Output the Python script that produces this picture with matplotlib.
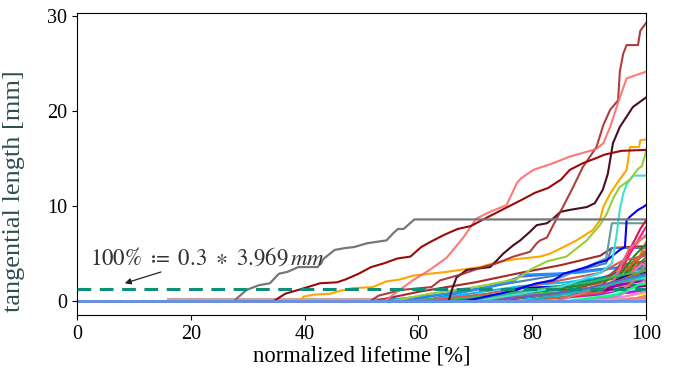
import matplotlib
matplotlib.use("Agg")
import matplotlib.pyplot as plt

plt.rcParams['font.family'] = ['Liberation Serif', 'DejaVu Serif']
plt.rcParams['mathtext.fontset'] = 'stix'

# main (readable) crack curves: normalized lifetime [%] vs tangential length [mm]
gray_x = [0, 27.5, 29.8, 32, 33.9, 35.5, 37, 38.9, 42.3, 43.4, 45.3, 47.2, 48.7, 51, 54.4, 55.5, 56.4, 57.4, 59.3, 100]
gray_y = [0, 0.0, 1.2, 1.7, 1.9, 2.9, 3.1, 3.6, 3.6, 4.5, 5.4, 5.6, 5.7, 6.1, 6.4, 7.1, 7.6, 7.6, 8.6, 8.6]

darkred_x = [0, 34.5, 36.6, 38.9, 41.1, 42.7, 45.7, 47.2, 49.5, 51.7, 54, 56.3, 58.6, 60.5, 62.3, 64.6, 66.9,
             69.2, 71.4, 73.7, 76, 78.3, 80.5, 82.8, 85.1, 86.6, 88.9, 91.1, 92.7, 94.2, 95.7, 100]
darkred_y = [0, 0.0, 0.8, 1.2, 1.6, 1.9, 2.0, 2.3, 2.9, 3.6, 4.0, 4.5, 4.7, 5.7, 6.3, 7.0, 7.6,
             7.9, 8.6, 9.3, 10.0, 10.7, 11.4, 11.9, 12.8, 13.8, 14.5, 15.0, 15.4, 15.6, 15.8, 15.9]

salmon_x = [0, 54.0, 59, 62, 65, 67.9, 70.2, 72.6, 75.5, 77.3, 78, 80.2, 83.7, 86.6, 89.6, 91.3, 92.5,
            93.7, 95.4, 96.6, 98, 100]
salmon_y = [0, 0.0, 2.2, 3.3, 4.6, 6.7, 8.7, 9.4, 10.1, 12.4, 12.9, 13.8, 14.5, 15.2, 15.7, 16.0, 16.6,
            18.3, 21.4, 23.4, 23.7, 24.1]

brown_x = [0, 51.5, 53, 57, 62.3, 63.8, 67.9, 70.8, 73.8, 76.7, 79.6, 80.8, 81.4, 82.6, 83.7, 85.4, 87.2,
           88.9, 89.6, 91.3, 92.5, 93.7, 95.1, 95.4, 96, 96.6, 98.6, 99, 100]
brown_y = [0, 0.0, 0.6, 1.2, 1.5, 2.2, 2.9, 3.5, 4.0, 4.7, 5.2, 6.1, 6.4, 6.7, 8.0, 9.9, 12.0,
           14.1, 14.7, 16.2, 18.5, 20.1, 21.1, 24.1, 26.0, 26.9, 26.9, 28.4, 29.2]

maroon_x = [0, 65.3, 66, 66.7, 68.5, 72.6, 73.8, 74.9, 76.7, 77.9, 79.6, 80.8, 82.6, 83.7, 85, 86.6, 89.6,
            91, 92.4, 93.3, 94.2, 95.4, 97.7, 100]
maroon_y = [0, 0.0, 1.4, 2.5, 3.3, 3.6, 4.3, 5.0, 5.9, 6.4, 7.3, 8.0, 8.2, 8.7, 9.4, 9.6, 9.9,
            10.3, 11.7, 13.4, 16.6, 18.3, 20.4, 21.4]

orange_x = [0, 39.2, 39.8, 41.5, 44.5, 46.2, 48.6, 52, 54.4, 56.8, 59.1, 65, 70.8, 73.8, 76.7, 81.4,
            83.1, 85.5, 87.8, 90.7, 91.9, 92.5, 93.7, 94.8, 96.6, 97.2, 98.8, 99, 100]
orange_y = [0, 0.0, 0.5, 0.7, 0.8, 1.1, 1.4, 1.5, 2.1, 2.3, 2.7, 3.1, 3.6, 4.1, 4.4, 4.7,
            5.0, 5.7, 6.4, 7.5, 8.5, 9.9, 11.3, 12.3, 13.8, 16.2, 16.2, 16.9, 17.0]

yellowgreen_x = [0, 55, 62, 70, 77, 78.5, 79.6, 82.6, 86, 89.6, 91.9, 93.1, 94.3, 95.4, 97.2, 98.6, 99.3, 100]
yellowgreen_y = [0, 0.0, 0.8, 1.5, 2.3, 2.8, 3.3, 4.2, 4.7, 6.4, 8.0, 9.2, 10.9, 12.0, 12.8, 13.9, 14.2, 15.7]

turquoise_x = [0, 70, 85, 92, 94, 94.8, 95.4, 96, 96.6, 97.8, 100]
turquoise_y = [0, 0.0, 1.5, 3.0, 4.0, 6.8, 9.6, 11.3, 12.3, 13.2, 13.2]

blue_x = [0, 68, 75, 78, 80.8, 83.7, 85.5, 89.6, 91.3, 93.1, 95.4, 96.3, 96.6, 97.2, 97.8, 98.6, 99.5, 100]
blue_y = [0, 0.0, 0.9, 1.4, 1.9, 2.2, 2.9, 3.6, 4.0, 4.3, 5.4, 5.7, 8.5, 8.9, 9.2, 9.6, 9.9, 10.1]

# the tangle of small cracks near the end of life (breakpoints, colour)
low_curves = [
    ([(52, 0.0), (60, 1.0), (70, 2.0), (78, 3.0), (85, 3.8), (92, 4.8), (94, 5.6), (100, 5.8)], 'brown'),
    ([(60, 0.0), (75, 1.8), (85, 2.8), (93, 4.0), (94, 5.6), (100, 5.6)], 'steelblue'),
    ([(70, 0.0), (85, 2.5), (93, 4.5), (94, 8.2), (100, 8.2)], 'cadetblue'),
    ([(57, 0.0), (65, 0.8), (73, 1.6), (78, 2.6), (85, 2.9), (92, 3.4), (96, 3.6), (100, 3.7)], 'royalblue'),
    ([(52, 0.0), (62, 0.6), (70, 1.2), (77, 2.2), (78, 2.8), (88, 3.0), (95, 3.5), (100, 4.0)], 'dodgerblue'),
    ([(60, 0.0), (70, 0.9), (78, 1.6), (86, 2.0), (93, 2.6), (97, 3.2), (100, 3.4)], 'deepskyblue'),
    ([(66, 0.0), (76, 0.8), (78, 1.4), (86, 1.6), (92, 2.2), (96, 2.6), (100, 2.8)], 'mediumblue'),
    ([(70, 0.0), (80, 1.0), (90, 1.4), (94, 1.6), (100, 1.8)], 'teal'),
    ([(62, 0.0), (72, 0.6), (82, 1.3), (92, 2.4), (96, 3.3), (100, 3.5)], 'darkcyan'),
    ([(75, 0.0), (85, 0.9), (93, 1.6), (97, 3.0), (100, 4.6)], 'seagreen'),
    ([(72, 0.0), (88, 0.8), (95, 2.0), (98, 4.0), (100, 5.2)], 'green'),
    ([(56, 0.0), (68, 0.4), (80, 0.8), (92, 1.2), (97, 2.0), (100, 2.4)], 'limegreen'),
    ([(84, 0.0), (94, 0.6), (98, 1.4), (100, 1.6)], 'lime'),
    ([(78, 0.0), (90, 0.6), (96, 2.0), (98, 4.5), (100, 5.0)], 'olive'),
    ([(80, 0.0), (92, 0.4), (96, 1.0), (99, 1.6), (100, 2.0)], 'gold'),
    ([(86, 0.0), (92, 0.2), (97, 0.6), (100, 0.8)], 'yellow'),
    ([(76, 0.0), (88, 0.9), (95, 2.6), (97, 5.2), (99, 6.4), (100, 7.0)], 'darkorange'),
    ([(82, 0.0), (93, 1.0), (97, 2.5), (100, 3.0)], 'orangered'),
    ([(79, 0.0), (90, 0.6), (95, 1.8), (98, 2.6), (100, 3.2)], 'red'),
    ([(88, 0.0), (95, 1.0), (98, 3.5), (100, 6.2)], 'tomato'),
    ([(81, 0.0), (92, 1.5), (96, 4.2), (98, 6.4), (99, 7.6), (100, 8.5)], 'crimson'),
    ([(85, 0.0), (94, 1.2), (97, 4.8), (99, 6.8), (100, 7.8)], 'deeppink'),
    ([(90, 0.0), (96, 1.4), (98, 3.2), (100, 4.4)], 'hotpink'),
    ([(83, 0.0), (91, 0.4), (93, 0.8), (97, 0.9), (100, 1.2)], 'magenta'),
    ([(74, 0.0), (86, 0.5), (92, 1.2), (96, 1.8), (100, 2.2)], 'darkviolet'),
    ([(68, 0.0), (82, 0.6), (90, 1.0), (96, 1.4), (100, 1.6)], 'purple'),
    ([(64, 0.0), (76, 0.5), (86, 0.9), (94, 1.8), (100, 2.6)], 'mediumpurple'),
    ([(78, 0.0), (88, 0.3), (94, 0.9), (100, 1.2)], 'blueviolet'),
    ([(88, 0.0), (95, 0.5), (98, 1.5), (100, 2.3)], 'orchid'),
    ([(92, 0.0), (97, 0.6), (100, 1.0)], 'violet'),
    ([(70, 0.0), (84, 0.8), (92, 2.0), (96, 3.9), (100, 4.2)], 'sienna'),
    ([(80, 0.0), (92, 1.0), (97, 3.6), (100, 5.4)], 'chocolate'),
    ([(86, 0.0), (95, 0.8), (98, 2.2), (100, 3.9)], 'peru'),
    ([(70, 0.0), (90, 0.1), (97, 0.2), (100, 0.5)], 'tan'),
    ([(74, 0.0), (84, 0.7), (92, 1.4), (97, 2.8), (100, 3.1)], 'navy'),
    ([(76, 0.0), (86, 0.7), (93, 1.7), (97, 2.3), (100, 2.5)], 'cyan'),
    ([(82, 0.0), (92, 0.5), (97, 1.2), (100, 1.4)], 'aquamarine'),
    ([(86, 0.0), (95, 0.7), (99, 1.8), (100, 1.9)], 'springgreen'),
    ([(66, 0.0), (78, 0.8), (88, 1.6), (95, 2.5), (98, 4.8), (100, 6.0)], 'forestgreen'),
    ([(72, 0.0), (86, 0.9), (94, 1.9), (98, 2.8), (100, 3.3)], 'darkgoldenrod'),
    ([(60, 0.0), (72, 0.8), (84, 2.1), (92, 3.0), (96, 4.3), (100, 4.8)], 'indianred'),
    ([(84, 0.0), (94, 1.8), (97, 5.5), (99, 6.5), (100, 6.8)], 'palevioletred'),
    ([(72, 0.0), (82, 0.7), (88, 1.1), (94, 2.0), (100, 2.9)], 'slateblue'),
    ([(78, 0.0), (90, 1.2), (96, 2.1), (100, 2.7)], 'lightseagreen'),
    ([(94, 0.0), (98, 0.3), (100, 0.6)], 'salmon'),
    ([(95, 0.0), (97, 0.3), (100, 0.4)], 'lightcoral'),
    ([(68, 0.0), (80, 1.2), (90, 2.0), (96, 2.8), (100, 3.2)], 'mediumseagreen'),
]

rosy_x = [16, 100]
rosy_y = [0.25, 0.25]
base_x = [0, 100]
base_y = [0, 0]

threshold = 1.35  # 100% := 0.3 * 3.969 mm

fig = plt.figure(figsize=(6.75, 3.73), dpi=100)
ax = fig.add_axes([0.114, 0.155, 0.843, 0.811])

ax.plot(rosy_x, rosy_y, color='rosybrown', lw=2.2, alpha=0.8)
for pts, col in low_curves:
    xs = [0] + [p[0] for p in pts]
    ys = [0] + [p[1] for p in pts]
    ax.plot(xs, ys, color=col, lw=1.5)

ax.plot(blue_x, blue_y, color='blue', lw=1.5)
ax.plot(turquoise_x, turquoise_y, color='turquoise', lw=1.5)
ax.plot(yellowgreen_x, yellowgreen_y, color='yellowgreen', lw=1.5)
ax.plot(orange_x, orange_y, color='orange', lw=1.5)
ax.plot(maroon_x, maroon_y, color='#4a0e22', lw=1.5)
ax.plot(brown_x, brown_y, color='#a52a2a', lw=1.5, alpha=0.9)
ax.plot(salmon_x, salmon_y, color='#ff6a6a', lw=1.5, alpha=0.9)
ax.plot(darkred_x, darkred_y, color='#9b0a0a', lw=1.5)
ax.plot(gray_x, gray_y, color='#777777', lw=1.6)
ax.plot(base_x, base_y, color='cornflowerblue', lw=2)

ax.axhline(threshold, color='#0f8f7a', lw=2.2, ls='--', dashes=(4.5, 2.8), zorder=5)

ax.annotate(r'$100\%\ \coloneq\ 0.3\ \ast\ 3.969\,mm$', xy=(8.4, 1.9), xytext=(2.3, 3.9),
            fontsize=16.5, color='#333333',
            arrowprops=dict(arrowstyle='-|>', color='#222222', lw=0.9, mutation_scale=9,
                            shrinkA=0, shrinkB=0, relpos=(0.34, 0.0)))

ax.set_xlim(0, 100)
ax.set_ylim(-1.45, 30.3)
ax.set_xticks([0, 20, 40, 60, 80, 100])
ax.set_yticks([0, 10, 20, 30])
ax.tick_params(labelsize=14.5)
ax.set_xlabel('normalized lifetime [%]', fontsize=16.3, labelpad=1)
ax.set_ylabel('tangential length [mm]', fontsize=19, color='darkslategray')
ax.yaxis.set_label_coords(-0.092, 0.41)

fig.savefig('out.png', dpi=100)
